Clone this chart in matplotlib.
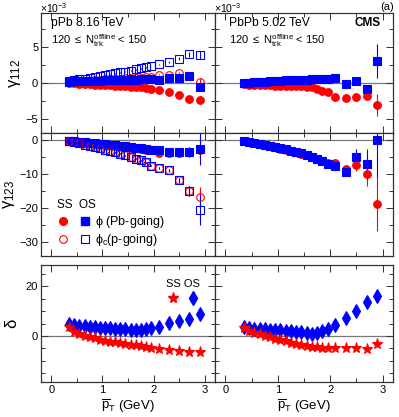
import numpy as np
import matplotlib
matplotlib.use('Agg')
import matplotlib.pyplot as plt
from matplotlib.lines import Line2D
from matplotlib.legend_handler import HandlerTuple
from matplotlib.ticker import MultipleLocator

plt.rcParams['font.family'] = ['Liberation Sans', 'DejaVu Sans']
plt.rcParams['mathtext.fontset'] = 'custom'
plt.rcParams['mathtext.rm'] = 'Liberation Sans'
plt.rcParams['mathtext.it'] = 'Liberation Sans'
plt.rcParams['mathtext.bf'] = 'Liberation Sans:bold'

RED = '#ff0000'
BLUE = '#0000ff'

# mean pT bin centres (GeV)
pt = [0.35, 0.45, 0.55, 0.65, 0.75, 0.85, 0.95, 1.05, 1.15, 1.25, 1.35,
      1.45, 1.55, 1.65, 1.75, 1.85, 1.95, 2.1, 2.3, 2.5, 2.7, 2.9]

# ---- pPb gamma112 (x1e-3)
pPb_g112_ss_pb = [0.0, -0.05, -0.1, -0.13, -0.17, -0.22, -0.26, -0.3, -0.33, -0.37, -0.41,
                  -0.45, -0.5, -0.55, -0.6, -0.68, -0.8, -0.94, -1.27, -1.64, -2.2, -2.35]
pPb_g112_ss_p = [0.15, 0.2, 0.25, 0.3, 0.35, 0.4, 0.45, 0.5, 0.5, 0.55, 0.6,
                 0.65, 0.7, 0.72, 0.75, 0.8, 0.85, 1.17, 1.13, 1.4, 0.94, 0.15]
pPb_g112_os_pb = [0.2, 0.22, 0.25, 0.27, 0.3, 0.32, 0.34, 0.36, 0.38, 0.4, 0.42,
                  0.44, 0.46, 0.48, 0.5, 0.52, 0.55, 0.47, 0.66, 0.75, 0.94, -0.56]
pPb_g112_os_p = [0.3, 0.4, 0.5, 0.6, 0.72, 0.85, 0.97, 1.1, 1.22, 1.35, 1.48,
                 1.6, 1.75, 1.9, 2.05, 2.2, 2.4, 2.6, 2.9, 3.4, 4.0, 3.9]
pPb_g112_err = [0.05] * 17 + [0.1, 0.15, 0.2, 0.3, 0.6]

# ---- PbPb gamma112 (x1e-3)
PbPb_g112_ss = [-0.2, -0.22, -0.25, -0.27, -0.3, -0.32, -0.35, -0.37, -0.4, -0.42, -0.45,
                -0.48, -0.5, -0.6, -0.9, -1.1, -1.25, -1.9, -2.15, -1.9, -1.8, -3.1]
PbPb_g112_os = [0.0, 0.05, 0.1, 0.15, 0.2, 0.24, 0.28, 0.32, 0.36, 0.4, 0.43,
                0.46, 0.48, 0.5, 0.52, 0.55, 0.58, 0.65, -0.1, 0.23, -0.8, 3.1]
PbPb_g112_ss_err = [0.05] * 17 + [0.15, 0.2, 0.25, 0.35, 1.5]
PbPb_g112_os_err = [0.05] * 17 + [0.15, 0.2, 0.25, 0.35, 2.4]

# ---- pPb gamma123 (x1e-3)
pPb_g123_ss_pb = [-0.3, -0.5, -0.65, -0.8, -0.95, -1.1, -1.25, -1.4, -1.6, -1.75, -1.9,
                  -2.05, -2.25, -2.45, -2.65, -2.9, -3.1, -3.9, -3.9, -3.8, -3.6, -3.0]
pPb_g123_os_pb = [-0.3, -0.45, -0.6, -0.75, -0.9, -1.05, -1.2, -1.35, -1.5, -1.65, -1.8,
                  -1.95, -2.1, -2.3, -2.5, -2.7, -2.9, -2.9, -3.7, -3.7, -3.5, -2.7]
pPb_g123_ss_p = [-0.4, -0.7, -1.0, -1.4, -1.7, -2.1, -2.5, -2.9, -3.3, -3.7, -4.1,
                 -4.5, -5.0, -5.5, -6.0, -6.6, -7.6, -8.3, -8.9, -11.9, -14.9, -16.8]
pPb_g123_os_p = [-0.4, -0.7, -1.0, -1.4, -1.7, -2.1, -2.5, -2.9, -3.3, -3.7, -4.1,
                 -4.5, -5.0, -5.5, -6.0, -6.6, -7.6, -8.3, -8.9, -11.9, -14.9, -20.4]
pPb_g123_ss_err = [0.1] * 17 + [0.3, 0.4, 0.6, 1.5, 3.0]
pPb_g123_os_err = [0.1] * 17 + [0.3, 0.4, 0.6, 1.5, 4.6]

# ---- PbPb gamma123 (x1e-3)
PbPb_g123_ss = [-0.3, -0.6, -0.9, -1.25, -1.6, -1.9, -2.2, -2.55, -2.9, -3.3, -3.7,
                -4.1, -4.55, -5.0, -5.6, -6.3, -6.8, -6.8, -8.5, -7.3, -10.1, -18.7]
PbPb_g123_os = [-0.3, -0.55, -0.85, -1.15, -1.5, -1.8, -2.1, -2.45, -2.8, -3.2, -3.6,
                -4.0, -4.45, -4.9, -5.5, -6.2, -7.1, -7.8, -9.3, -5.1, -7.1, 0.0]
PbPb_g123_ss_err = [0.1] * 17 + [0.4, 0.6, 1.7, 3.3, 8.0]
PbPb_g123_os_err = [0.1] * 17 + [0.4, 0.6, 2.4, 4.4, 11.0]

# ---- delta
pPb_delta_ss = [3.4, 1.5, 0.8, 0.1, -0.5, -1.0, -1.6, -2.0, -2.3, -2.6, -3.0,
                -3.2, -3.5, -3.8, -4.2, -4.5, -4.9, -5.3, -5.8, -6.2, -6.5, -6.6]
pPb_delta_os = [4.8, 4.4, 4.1, 4.0, 3.7, 3.6, 3.3, 3.2, 3.0, 2.9, 2.8,
                2.6, 2.4, 2.4, 2.5, 2.7, 3.0, 3.7, 5.3, 6.1, 7.0, 8.7]
PbPb_delta_ss = [3.0, 1.8, 1.2, 0.6, 0.0, -0.6, -1.2, -1.7, -2.2, -2.7, -3.2,
                 -3.6, -4.0, -4.3, -4.6, -4.8, -5.0, -5.0, -4.8, -4.8, -5.3, -3.4]
PbPb_delta_os = [3.4, 3.0, 2.8, 2.7, 2.6, 2.4, 2.3, 2.2, 2.0, 1.8, 1.6,
                 1.4, 1.1, 0.6, 1.0, 1.9, 2.7, 4.4, 7.4, 10.1, 13.6, 16.0]

W, H = 399, 417
fig = plt.figure(figsize=(W / 100, H / 100), dpi=100)


def rect(x0, x1, y0, y1):
    return [x0 / W, 1 - y1 / H, (x1 - x0) / W, (y1 - y0) / H]


cols = [(41, 215), (215, 393)]
rows = [(13, 133), (133, 256), (265, 382)]
ylims = [(-7, 9.8), (-34, 2), (-18.5, 28.5)]
majors = [5, 10, 20]
minors = [2.5, 5, 5]

axes = [[None, None] for _ in range(3)]
for r in range(3):
    for c in range(2):
        ax = fig.add_axes(rect(cols[c][0], cols[c][1], rows[r][0], rows[r][1]))
        ax.set_xlim(-0.2, 3.2)
        ax.set_ylim(*ylims[r])
        ax.xaxis.set_major_locator(MultipleLocator(1))
        ax.xaxis.set_minor_locator(MultipleLocator(0.5))
        ax.yaxis.set_major_locator(MultipleLocator(majors[r]))
        ax.yaxis.set_minor_locator(MultipleLocator(minors[r]))
        ax.tick_params(which='both', direction='in', top=True, right=True,
                       labelsize=8, color='#333333', pad=2)
        ax.tick_params(which='major', length=5, width=0.7)
        ax.tick_params(which='minor', length=3, width=0.7)
        for s in ax.spines.values():
            s.set_linewidth(0.9)
            s.set_color('#333333')
        ax.axhline(0, color='#777777', lw=0.9, zorder=0)
        if r < 2:
            ax.tick_params(labelbottom=False)
        if c == 1:
            ax.tick_params(labelleft=False)
        axes[r][c] = ax


def pts(ax, y, err, marker, color, filled, ms=5.5, z=3):
    ax.errorbar(pt, y, yerr=err, fmt=marker, color=color, ms=ms,
                mfc=color if filled else 'none', mec=color, mew=0.8,
                elinewidth=0.8, ecolor=color, capsize=0, zorder=z)


# row 1: gamma112
ax = axes[0][0]
pts(ax, pPb_g112_ss_pb, pPb_g112_err, 'o', RED, True)
pts(ax, pPb_g112_ss_p, pPb_g112_err, 'o', RED, False)
pts(ax, pPb_g112_os_pb, pPb_g112_err, 's', BLUE, True)
pts(ax, pPb_g112_os_p, pPb_g112_err, 's', BLUE, False)
ax.set_ylabel(r'$\gamma_{112}$', fontsize=12, labelpad=2)
ax.text(0.06, 0.92, 'pPb 8.16 TeV', transform=ax.transAxes, fontsize=8.7, va='center')
ax.text(0.06, 0.77, r'120 $\leq$ N$_{\mathrm{trk}}^{\mathrm{offline}}$ < 150',
        transform=ax.transAxes, fontsize=8, va='center')

ax = axes[0][1]
pts(ax, PbPb_g112_ss, PbPb_g112_ss_err, 'o', RED, True)
pts(ax, PbPb_g112_os, PbPb_g112_os_err, 's', BLUE, True)
ax.text(0.08, 0.92, 'PbPb 5.02 TeV', transform=ax.transAxes, fontsize=8.7, va='center')
ax.text(0.08, 0.77, r'120 $\leq$ N$_{\mathrm{trk}}^{\mathrm{offline}}$ < 150',
        transform=ax.transAxes, fontsize=8, va='center')
ax.text(0.93, 0.92, 'CMS', transform=ax.transAxes, fontsize=8.5, fontweight='bold',
        va='center', ha='right')

# exponent labels and panel tag above the top row
fig.text(40 / W, 1 - 1 / H, r'$\times10^{-3}$', fontsize=7.5, va='top', ha='left')
fig.text(214 / W, 1 - 1 / H, r'$\times10^{-3}$', fontsize=7.5, va='top', ha='left')
fig.text(394 / W, 1 - 1.5 / H, '(a)', fontsize=8, va='top', ha='right')

# row 2: gamma123
ax = axes[1][0]
pts(ax, pPb_g123_ss_pb, pPb_g123_ss_err, 'o', RED, True)
pts(ax, pPb_g123_os_pb, pPb_g123_os_err, 's', BLUE, True)
pts(ax, pPb_g123_ss_p, pPb_g123_ss_err, 'o', RED, False)
pts(ax, pPb_g123_os_p, pPb_g123_os_err, 's', BLUE, False)
ax.set_ylabel(r'$\gamma_{123}$', fontsize=12, labelpad=2)
h1 = Line2D([], [], ls='none', marker='o', color=RED, ms=5.5)
h2 = Line2D([], [], ls='none', marker='s', color=BLUE, ms=5.5)
h3 = Line2D([], [], ls='none', marker='o', mfc='none', mec=RED, mew=0.8, ms=5.5)
h4 = Line2D([], [], ls='none', marker='s', mfc='none', mec=BLUE, mew=0.8, ms=5.5)
ax.legend([(h1, h2), (h3, h4)], [r'$\phi$ (Pb-going)', r'$\phi_{c}$(p-going)'],
          handler_map={tuple: HandlerTuple(ndivide=None, pad=0.9)},
          loc='lower left', bbox_to_anchor=(0.03, -0.03), title='SS  OS',
          alignment='left', frameon=False, fontsize=9, title_fontsize=8.5,
          handlelength=2.6, handletextpad=0.4, labelspacing=0.2)

ax = axes[1][1]
pts(ax, PbPb_g123_ss, PbPb_g123_ss_err, 'o', RED, True)
pts(ax, PbPb_g123_os, PbPb_g123_os_err, 's', BLUE, True)

# row 3: delta
ax = axes[2][0]
pts(ax, pPb_delta_os, None, 'd', BLUE, True, ms=7.5)
pts(ax, pPb_delta_ss, None, '*', RED, True, ms=8)
ax.set_ylabel(r'$\delta$', fontsize=12, labelpad=4)
ax.set_xlabel(r'$\overline{p}_{\mathrm{T}}$ (GeV)', fontsize=9.5, labelpad=2)
hs = Line2D([], [], ls='none', marker='*', color=RED, ms=8)
hd = Line2D([], [], ls='none', marker='d', color=BLUE, ms=7.5)
ax.legend([hs, hd], ['', ''], ncol=2, loc='upper right', bbox_to_anchor=(0.97, 0.97),
          title='SS OS', frameon=False, fontsize=8, title_fontsize=8,
          handlelength=1.2, handletextpad=0.0, columnspacing=0.6)

ax = axes[2][1]
pts(ax, PbPb_delta_os, None, 'd', BLUE, True, ms=7.5)
pts(ax, PbPb_delta_ss, None, '*', RED, True, ms=8)
ax.set_xlabel(r'$\overline{p}_{\mathrm{T}}$ (GeV)', fontsize=9.5, labelpad=2)

fig.savefig('out.png', dpi=100)
